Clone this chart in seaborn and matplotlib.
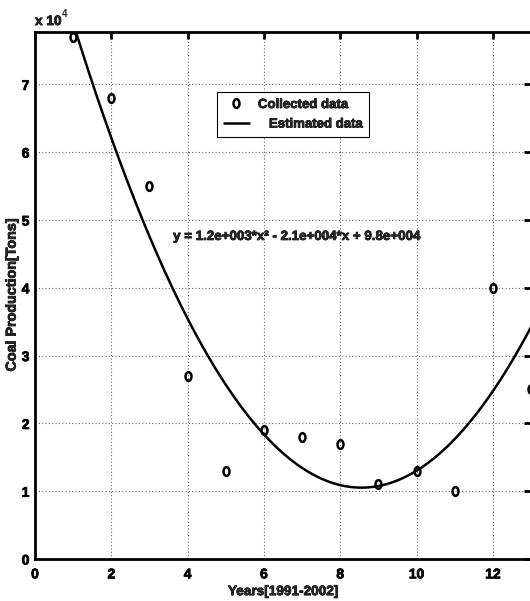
import numpy as np
import matplotlib
matplotlib.use("Agg")
import matplotlib.pyplot as plt
import matplotlib.patheffects as pe
import seaborn as sns
from matplotlib.path import Path
from matplotlib.transforms import Affine2D

# ---- data ----
years = [1, 2, 3, 4, 5, 6, 7, 8, 9, 10, 11, 12, 13]
production = [77000, 68000, 55000, 27000, 13000, 19000, 18000, 17000,
              11000, 13000, 10000, 40000, 25000]
x_ticks = [0, 2, 4, 6, 8, 10, 12]
y_ticks = [0, 10000, 20000, 30000, 40000, 50000, 60000, 70000]
y_tick_labels = ["0", "1", "2", "3", "4", "5", "6", "7"]

# quadratic fit (as in the chart: y = 1.2e+003*x^2 - 2.1e+004*x + 9.8e+004)
coef = np.polyfit(years, production, 2)
x_fit = np.linspace(min(years), max(years), 300)
y_fit = np.polyval(coef, x_fit)

sns.set_style("white")
plt.rcParams["font.family"] = ["Liberation Sans", "DejaVu Sans"]
plt.rcParams["font.weight"] = "bold"

heavy = [pe.withStroke(linewidth=0.55, foreground="black")]

fig = plt.figure(figsize=(5.3, 6.01), dpi=100)
ax = fig.add_axes([35 / 530, 42 / 601, 496 / 530, 527.5 / 601])

ell = Path.unit_circle().transformed(Affine2D().scale(0.68, 1.0))

sns.lineplot(x=years, y=production, ax=ax, linestyle="", marker=ell,
             markersize=6.3, markerfacecolor="none", markeredgecolor="black",
             markeredgewidth=1.8, color="black", label="Collected data",
             zorder=3)
sns.lineplot(x=x_fit, y=y_fit, ax=ax, color="black", linewidth=1.8,
             label="   Estimated data", zorder=2)

ax.set_xlim(0, 13)
ax.set_ylim(0, 77800)
ax.set_xticks(x_ticks)
ax.set_xticklabels([str(v) for v in x_ticks])
ax.set_yticks(y_ticks)
ax.set_yticklabels(y_tick_labels)

ax.grid(True, linestyle=(0, (1, 2)), color="#666666", linewidth=0.8)
ax.set_axisbelow(True)

for s in ax.spines.values():
    s.set_linewidth(2.0)
    s.set_color("black")
    s.set_visible(True)

ax.tick_params(axis="both", which="both", direction="in", length=5, width=2,
               top=True, right=True, labelsize=10, colors="black", pad=4)
ax.tick_params(axis="x", pad=6)
for lab in ax.get_xticklabels() + ax.get_yticklabels():
    lab.set_fontweight("bold")
    lab.set_path_effects(heavy)

ax.set_xlabel("Years[1991-2002]", fontsize=9.8, fontweight="bold", labelpad=2,
              path_effects=heavy)
ax.set_ylabel("Coal Production[Tons]", fontsize=10.3, fontweight="bold",
              labelpad=2.2, path_effects=heavy)

ax.text(3.62, 47500, "y = 1.2e+003*x\u00b2 - 2.1e+004*x + 9.8e+004",
        fontsize=9.6, fontweight="bold", va="center", ha="left",
        path_effects=heavy)

fig.text(35 / 530, 1 - 25 / 601, "x 10", fontsize=9.8, fontweight="bold",
         ha="left", va="baseline", path_effects=heavy)
fig.text(62 / 530, 1 - 17 / 601, "4", fontsize=7, fontweight="bold",
         ha="left", va="baseline")

leg = ax.legend(loc="upper left", bbox_to_anchor=(0.367, 0.885),
                frameon=True, fancybox=False, edgecolor="black",
                framealpha=1, borderaxespad=0,
                prop={"weight": "bold", "size": 9.5},
                handlelength=1.9, handletextpad=0.7, labelspacing=0.55,
                borderpad=0.5)
leg.get_frame().set_linewidth(0.8)
for t in leg.get_texts():
    t.set_path_effects(heavy)

fig.savefig("out.png", dpi=100)
